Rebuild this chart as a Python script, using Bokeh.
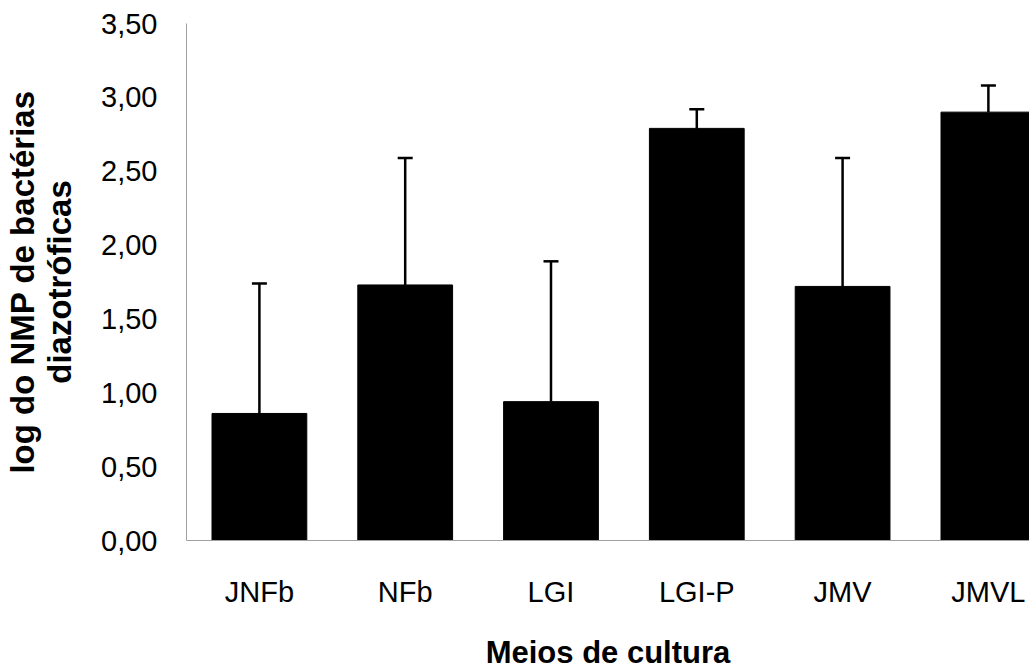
from bokeh.plotting import figure
from bokeh.models import ColumnDataSource, Range1d, FixedTicker, Whisker, TeeHead
from bokeh.embed import file_html
from bokeh.resources import INLINE

# ---- data ----
categories = ["JNFb", "NFb", "LGI", "LGI-P", "JMV", "JMVL"]
means = [0.86, 1.73, 0.94, 2.79, 1.72, 2.90]
sd = [0.88, 0.86, 0.95, 0.13, 0.87, 0.18]
y_ticks = [0.0, 0.5, 1.0, 1.5, 2.0, 2.5, 3.0, 3.5]
y_tick_labels = ["0,00", "0,50", "1,00", "1,50", "2,00", "2,50", "3,00", "3,50"]

x_pos = [i + 0.5 for i in range(len(categories))]
upper = [m + s for m, s in zip(means, sd)]
src = ColumnDataSource(dict(x=x_pos, mean=means, upper=upper, cat=categories))

FONT = "Liberation Sans"

p = figure(width=1029, height=672, output_backend="svg", toolbar_location=None,
           x_range=Range1d(0, 5.782), y_range=Range1d(0, 3.5),
           min_border_left=186, min_border_top=23, min_border_bottom=130,
           min_border_right=0)
p.outline_line_color = None
p.xgrid.visible = False
p.ygrid.visible = False
p.background_fill_color = "white"
p.border_fill_color = "white"

p.vbar(x="x", top="mean", bottom=0, width=0.65, source=src,
       fill_color="black", line_color="black", line_width=1)

wh = Whisker(base="x", upper="upper", lower="mean", source=src,
             upper_head=TeeHead(size=15, line_width=2.5, line_color="black"),
             lower_head=None, line_width=2.5, line_color="black")
p.add_layout(wh)

# y axis
p.yaxis.ticker = FixedTicker(ticks=y_ticks)
p.yaxis.major_label_overrides = {t: l for t, l in zip(y_ticks, y_tick_labels)}
p.yaxis.major_tick_out = 0
p.yaxis.major_tick_in = 0
p.yaxis.minor_tick_out = 0
p.yaxis.minor_tick_in = 0
p.yaxis.axis_line_color = "#a0a0a0"
p.yaxis.major_label_standoff = 29
p.yaxis.major_label_text_font = FONT
p.yaxis.major_label_text_font_size = "29px"
p.yaxis.major_label_text_color = "black"
p.yaxis.axis_label = "log do NMP de bactérias\ndiazotróficas"
p.yaxis.axis_label_text_font = FONT
p.yaxis.axis_label_text_font_size = "33px"
p.yaxis.axis_label_text_font_style = "bold"
p.yaxis.axis_label_text_color = "black"
p.yaxis.axis_label_text_line_height = 1.0
p.yaxis.axis_label_standoff = 20

# x axis
p.xaxis.ticker = FixedTicker(ticks=x_pos)
p.xaxis.major_label_overrides = {x: c for x, c in zip(x_pos, categories)}
p.xaxis.major_tick_out = 0
p.xaxis.major_tick_in = 0
p.xaxis.minor_tick_out = 0
p.xaxis.minor_tick_in = 0
p.xaxis.axis_line_color = "#a0a0a0"
p.xaxis.major_label_standoff = 35
p.xaxis.major_label_text_font = FONT
p.xaxis.major_label_text_font_size = "29px"
p.xaxis.major_label_text_color = "black"
p.xaxis.axis_label = "Meios de cultura"
p.xaxis.axis_label_text_font = FONT
p.xaxis.axis_label_text_font_size = "31px"
p.xaxis.axis_label_text_font_style = "bold"
p.xaxis.axis_label_text_color = "black"
p.xaxis.axis_label_standoff = 24

open("out.html", "w").write(file_html(p, INLINE))
